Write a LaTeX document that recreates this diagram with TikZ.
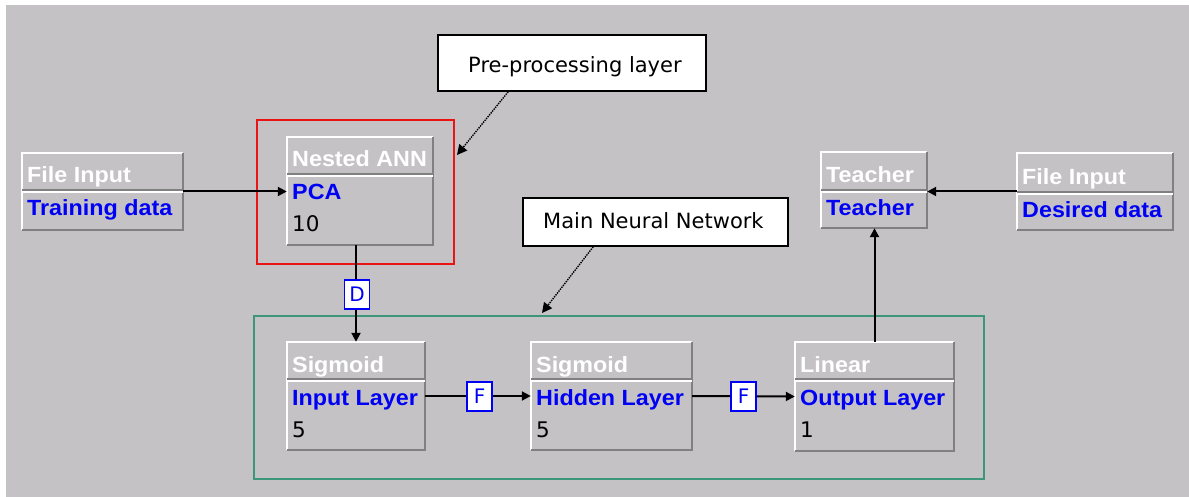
\documentclass[tikz,border=0pt]{standalone}
\usepackage{fontspec}
\setmainfont{Liberation Sans}
\newfontfamily\uifont{DejaVu Sans}
\newfontfamily\jbold[FakeStretch=1.06]{Liberation Sans Bold}
\usetikzlibrary{calc,arrows.meta}
\definecolor{bg}{RGB}{196,194,197}
\definecolor{edgegray}{RGB}{128,128,128}
\definecolor{jblue}{RGB}{0,0,245}
\definecolor{netgreen}{RGB}{60,150,120}
\definecolor{prered}{RGB}{235,20,20}
\tikzset{
  jframe/.style={inner sep=0pt, draw=none},
  hi/.style={draw=white, line width=1.8pt},
  lo/.style={draw=edgegray, line width=1.8pt},
  ttl/.style={anchor=base west, inner sep=0pt, text=white, font=\jbold\fontsize{22}{26}\selectfont},
  sub/.style={anchor=base west, inner sep=0pt, text=jblue, font=\jbold\fontsize{22}{26}\selectfont},
  num/.style={anchor=base west, inner sep=0pt, text=black, font=\uifont\fontsize{21.5}{25}\selectfont},
  conn/.style={draw=black, line width=2pt, -{Triangle[length=9pt,width=9pt]}},
  ptr/.style={draw=black, line width=1.4pt, densely dotted, -{Triangle[length=10pt,width=10pt]}},
  tag/.style={draw=jblue, line width=1.6pt, fill=white, text=jblue, inner sep=0pt,
    minimum width=25pt, minimum height=29pt, font=\uifont\fontsize{20}{24}\selectfont},
  callout/.style={draw=black, line width=1.6pt, fill=white, inner sep=0pt},
  ctext/.style={anchor=base west, inner sep=0pt, font=\uifont\fontsize{21}{25}\selectfont},
}
\newcommand\jbox[9]{%
  \node[jframe, minimum width={(#4-#2)*1pt}, minimum height={(#5-#3)*1pt}] (#1) at ({(#2+#4)/2},{(#3+#5)/2}) {};
  \draw[hi] (#2,#5) -- (#2,#3) -- (#4,#3);
  \draw[lo] (#4,#3) -- (#4,#5) -- (#2,#5);
  \draw[lo] (#2,#6) -- (#4,#6);
  \draw[hi] (#2,#6+1.8) -- (#4,#6+1.8);
  \node[ttl] (#1-t) at (#2+5,#6-7) {#7};
  \node[sub] (#1-s) at (#2+5,#6+26) {#8};
  \node[num] (#1-n) at (#2+5,#6+58) {#9};
}
\begin{document}
\begin{tikzpicture}[x=1pt,y=-1pt]
\useasboundingbox (0,0) rectangle (1189,497);
\fill[bg] (6,5) rectangle (1189,497);

% group frames
\node[jframe, draw=prered, line width=1.6pt, minimum width=197pt, minimum height=144pt] (preframe) at (355.5,192) {};
\node[jframe, draw=netgreen, line width=1.6pt, minimum width=730pt, minimum height=163pt] (netframe) at (619,397.5) {};

% component boxes
\jbox{fin1}{22}{153}{183}{230}{190}{File Input}{Training data}{}
\jbox{nann}{287}{137}{433}{245}{174}{Nested ANN}{PCA}{10}
\jbox{inp}{287}{342}{425}{450}{379}{Sigmoid}{Input Layer}{5}
\jbox{hid}{531}{342}{692}{450}{379}{Sigmoid}{Hidden Layer}{5}
\jbox{outl}{795}{342}{954}{451}{379}{Linear}{Output Layer}{1}
\jbox{teach}{821}{152}{927}{228}{190}{Teacher}{Teacher}{}
\jbox{fin2}{1017}{153}{1173}{230}{192}{File Input}{Desired data}{}

% connectors
\draw[conn] (fin1.east) -- (fin1.east -| nann.west);
\draw[conn] (inp.north |- nann.south) -- (inp.north);
\node[tag] (tagD) at (357,294.5) {D};
\draw[conn] (inp.east) -- (hid.west);
\node[tag] (tagF1) at (479.5,396.5) {F};
\draw[conn] (hid.east) -- (outl.west);
\node[tag] (tagF2) at (743.5,396.5) {F};
\draw[conn] (outl.north) -- (outl.north |- teach.south);
\draw[conn] (fin2.west) -- (fin2.west -| teach.east);

% callouts
\node[callout, minimum width=268pt, minimum height=56pt] (pre) at (572,63) {};
\node[ctext] (pre-t) at (468,72.5) {Pre-processing layer};
\coordinate (preTip) at (457,155);
\draw[ptr] ($(pre.south west)+(71,0)$) -- (preTip);

\node[callout, minimum width=265pt, minimum height=48pt] (mnn) at (655.5,222) {};
\node[ctext] (mnn-t) at (543,229) {Main Neural Network};
\coordinate (mnnTip) at (542,313);
\draw[ptr] ($(mnn.south west)+(71,0)$) -- (mnnTip);
\end{tikzpicture}
\end{document}
